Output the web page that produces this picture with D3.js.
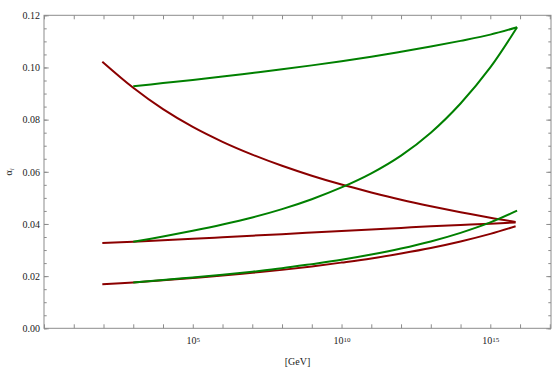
<!DOCTYPE html>
<html lang="en">
<head>
    <meta charset="UTF-8">
    <title>Gauge coupling running</title>
    <script src="https://d3js.org/d3.v7.min.js"></script>
    <style>
        body { margin: 0; background: #fff; }
        .tick text, .lbl { font-family: "Liberation Serif", "DejaVu Serif", serif; font-size: 10px; fill: #222; }
        .domain { stroke: none; }
        .tick line { stroke: #8c8c8c; }
    </style>
</head>
<body>
    <svg id="chart" width="554" height="372"></svg>
    <script>
        // log10(E / GeV) sample points
        const smLogE = [1.96, 3, 4, 5, 6, 7, 8, 9, 10, 11, 12, 13, 14, 15, 15.85];
        const smAlpha3 = [0.1022, 0.0922, 0.0840, 0.0772, 0.0715, 0.0666, 0.0623, 0.0585, 0.0551, 0.0521, 0.0493, 0.0468, 0.0445, 0.0424, 0.0408];
        const smAlpha2 = [0.0327, 0.0332, 0.0338, 0.0343, 0.0349, 0.0355, 0.0361, 0.0367, 0.0373, 0.0379, 0.0385, 0.0391, 0.0396, 0.0401, 0.0406];
        const smAlpha1 = [0.0169, 0.0176, 0.0184, 0.0193, 0.0202, 0.0213, 0.0224, 0.0237, 0.0252, 0.0268, 0.0287, 0.0308, 0.0333, 0.0362, 0.0391];

        const susyLogE = [3, 4, 5, 6, 7, 8, 9, 10, 11, 12, 13, 14, 15, 15.9];
        const susyAlpha3 = [0.0928, 0.0940, 0.0952, 0.0965, 0.0979, 0.0993, 0.1008, 0.1024, 0.1041, 0.1060, 0.1080, 0.1102, 0.1126, 0.1154];
        const susyAlpha2 = [0.0332, 0.0352, 0.0374, 0.0398, 0.0425, 0.0457, 0.0495, 0.0540, 0.0594, 0.0662, 0.0750, 0.0862, 0.1000, 0.1154];
        const susyAlpha1 = [0.0176, 0.0185, 0.0195, 0.0205, 0.0217, 0.0230, 0.0246, 0.0263, 0.0283, 0.0306, 0.0333, 0.0366, 0.0406, 0.0451];

        const xMajorExp = [5, 10, 15];
        const yMajor = [0, 0.02, 0.04, 0.06, 0.08, 0.10, 0.12];

        const svg = d3.select("#chart");
        const margin = { top: 15.3, right: 3, bottom: 43.7, left: 44 };
        const width = 554 - margin.left - margin.right;
        const height = 372 - margin.top - margin.bottom;

        const x = d3.scaleLog().domain([1, Math.pow(10, 17.04)]).range([0, width]);
        const y = d3.scaleLinear().domain([0, 0.12]).range([height, 0]);

        const g = svg.append("g").attr("transform", `translate(${margin.left},${margin.top})`);

        const decades = d3.range(0, 18).map(e => Math.pow(10, e));
        const yMinor = d3.range(0, 25).map(i => i * 0.005);

        // x ticks bottom (with labels) and top
        const xb = g.append("g").attr("transform", `translate(0,${height})`)
            .call(d3.axisBottom(x).tickValues(decades).tickSize(-4).tickPadding(9).tickFormat(""));
        xb.selectAll(".tick text").each(function(d) {
            const e = Math.round(Math.log10(d));
            if (!xMajorExp.includes(e)) return;
            const t = d3.select(this);
            t.append("tspan").text("10");
            t.append("tspan").attr("dy", "-0.4em").attr("font-size", "7px").text(e);
        });
        g.append("g").call(d3.axisTop(x).tickValues(decades).tickSize(-4).tickFormat(""));

        // y ticks left (labels) and right
        g.append("g").call(d3.axisLeft(y).tickValues(yMajor).tickSize(-4.7).tickPadding(4).tickFormat(d3.format(".2f")));
        g.append("g").call(d3.axisLeft(y).tickValues(yMinor).tickSize(-2.7).tickFormat(""));
        g.append("g").attr("transform", `translate(${width},0)`)
            .call(d3.axisRight(y).tickValues(yMajor).tickSize(-4.7).tickFormat(""));
        g.append("g").attr("transform", `translate(${width},0)`)
            .call(d3.axisRight(y).tickValues(yMinor).tickSize(-2.7).tickFormat(""));

        // frame
        g.append("rect").attr("width", width).attr("height", height)
            .attr("fill", "none").attr("stroke", "#8c8c8c").attr("stroke-width", 1);

        const line = d3.line()
            .x(d => x(Math.pow(10, d[0])))
            .y(d => y(d[1]))
            .curve(d3.curveCatmullRom.alpha(0.5));

        const series = [
            { e: smLogE, v: smAlpha3, c: "#8b0000" },
            { e: smLogE, v: smAlpha2, c: "#8b0000" },
            { e: smLogE, v: smAlpha1, c: "#8b0000" },
            { e: susyLogE, v: susyAlpha3, c: "#008000" },
            { e: susyLogE, v: susyAlpha2, c: "#008000" },
            { e: susyLogE, v: susyAlpha1, c: "#008000" }
        ];
        series.forEach(s => {
            g.append("path")
                .datum(s.e.map((e, i) => [e, s.v[i]]))
                .attr("fill", "none")
                .attr("stroke", s.c)
                .attr("stroke-width", 2)
                .attr("d", line);
        });

        // axis labels
        svg.append("text").attr("class", "lbl")
            .attr("x", margin.left + width / 2).attr("y", 365)
            .attr("text-anchor", "middle").text("[GeV]");
        const yl = svg.append("text").attr("class", "lbl")
            .attr("transform", `translate(12,${margin.top + height / 2}) rotate(-90)`)
            .attr("text-anchor", "middle");
        yl.append("tspan").text("α");
        yl.append("tspan").attr("dy", "0.3em").attr("font-size", "7px").attr("font-style", "italic").text("i");
    </script>
</body>
</html>
